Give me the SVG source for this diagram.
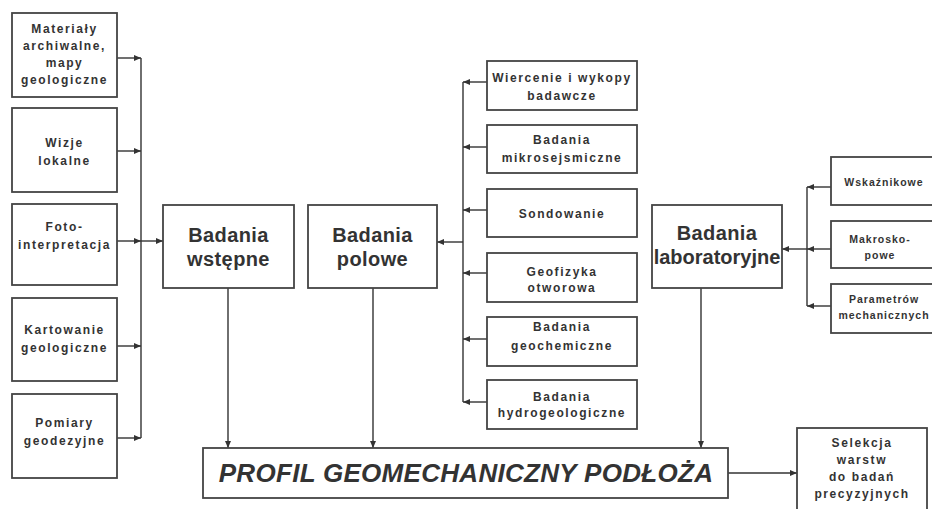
<svg xmlns="http://www.w3.org/2000/svg" width="932" height="509" viewBox="0 0 932 509">
<style>
  .box { fill: #ffffff; stroke: #444; stroke-width: 1.8; }
  .ln { fill: none; stroke: #333; stroke-width: 1.4; }
  text { font-family: "Liberation Sans", Arial, sans-serif; font-weight: bold; fill: #333; text-anchor: middle; }
  .s { font-size: 12px; letter-spacing: 1.6px; }
  .r { font-size: 10.5px; letter-spacing: 1px; }
  .b { font-size: 20px; letter-spacing: 0.4px; }
  .p { font-size: 26px; font-style: italic; letter-spacing: 0.3px; }
</style>
<defs>
  <marker id="arr" markerUnits="userSpaceOnUse" markerWidth="8" markerHeight="6" refX="7" refY="3" orient="auto">
    <path d="M0,0 L7,3 L0,6 Z" fill="#333"/>
  </marker>
</defs>
<rect width="932" height="509" fill="#ffffff"/>

<g id="connectors">
  <!-- left bus -->
  <path class="ln" d="M141,58 V438"/>
  <path class="ln" d="M117,58 H141" marker-end="url(#arr)"/>
  <path class="ln" d="M117,151 H141" marker-end="url(#arr)"/>
  <path class="ln" d="M117,241 H141" marker-end="url(#arr)"/>
  <path class="ln" d="M117,346 H141" marker-end="url(#arr)"/>
  <path class="ln" d="M117,438 H141" marker-end="url(#arr)"/>
  <path class="ln" d="M141,241 H163" marker-end="url(#arr)"/>
  <!-- field bus -->
  <path class="ln" d="M463,82 V402"/>
  <path class="ln" d="M487,82 H463" marker-end="url(#arr)"/>
  <path class="ln" d="M487,147 H463" marker-end="url(#arr)"/>
  <path class="ln" d="M487,210 H463" marker-end="url(#arr)"/>
  <path class="ln" d="M487,273 H463" marker-end="url(#arr)"/>
  <path class="ln" d="M487,339 H463" marker-end="url(#arr)"/>
  <path class="ln" d="M487,402 H463" marker-end="url(#arr)"/>
  <path class="ln" d="M463,242 H437" marker-end="url(#arr)"/>
  <!-- lab bus -->
  <path class="ln" d="M807,187 V306"/>
  <path class="ln" d="M831,187 H807" marker-end="url(#arr)"/>
  <path class="ln" d="M831,249 H807" marker-end="url(#arr)"/>
  <path class="ln" d="M831,306 H807" marker-end="url(#arr)"/>
  <path class="ln" d="M807,249 H782" marker-end="url(#arr)"/>
  <!-- down to profile -->
  <path class="ln" d="M228,288 V448" marker-end="url(#arr)"/>
  <path class="ln" d="M373,288 V448" marker-end="url(#arr)"/>
  <path class="ln" d="M701,288 V448" marker-end="url(#arr)"/>
  <path class="ln" d="M728,473 H797" marker-end="url(#arr)"/>
</g>

<g id="materialy">
  <rect class="box" x="12" y="13" width="105" height="84"/>
  <text class="s" x="64.5" y="33">Materiały</text>
  <text class="s" x="64.5" y="50">archiwalne,</text>
  <text class="s" x="64.5" y="67">mapy</text>
  <text class="s" x="64.5" y="84">geologiczne</text>
</g>
<g id="wizje">
  <rect class="box" x="12" y="108" width="105" height="84"/>
  <text class="s" x="64.5" y="147">Wizje</text>
  <text class="s" x="64.5" y="165">lokalne</text>
</g>
<g id="foto">
  <rect class="box" x="12" y="204" width="105" height="81"/>
  <text class="s" x="64.5" y="231">Foto-</text>
  <text class="s" x="64.5" y="249">interpretacja</text>
</g>
<g id="kartowanie">
  <rect class="box" x="12" y="298" width="105" height="83"/>
  <text class="s" x="64.5" y="334">Kartowanie</text>
  <text class="s" x="64.5" y="352">geologiczne</text>
</g>
<g id="pomiary">
  <rect class="box" x="12" y="394" width="105" height="84"/>
  <text class="s" x="64.5" y="427">Pomiary</text>
  <text class="s" x="64.5" y="445">geodezyjne</text>
</g>

<g id="wstepne">
  <rect class="box" x="163" y="205" width="131" height="83"/>
  <text class="b" x="228.5" y="242">Badania</text>
  <text class="b" x="228.5" y="266">wstępne</text>
</g>
<g id="polowe">
  <rect class="box" x="308" y="205" width="129" height="83"/>
  <text class="b" x="372.5" y="242">Badania</text>
  <text class="b" x="372.5" y="266">polowe</text>
</g>
<g id="laboratoryjne">
  <rect class="box" x="652" y="205" width="130" height="83"/>
  <text class="b" x="717" y="240">Badania</text>
  <text class="b" x="717" y="264" style="letter-spacing:0">laboratoryjne</text>
</g>

<g id="wiercenie">
  <rect class="box" x="487" y="61" width="150" height="49"/>
  <text class="s" x="562" y="82">Wiercenie i wykopy</text>
  <text class="s" x="562" y="100">badawcze</text>
</g>
<g id="mikrosejsmiczne">
  <rect class="box" x="487" y="125" width="150" height="48"/>
  <text class="s" x="562" y="144">Badania</text>
  <text class="s" x="562" y="162">mikrosejsmiczne</text>
</g>
<g id="sondowanie">
  <rect class="box" x="487" y="189" width="150" height="48"/>
  <text class="s" x="562" y="218">Sondowanie</text>
</g>
<g id="geofizyka">
  <rect class="box" x="487" y="253" width="150" height="49"/>
  <text class="s" x="562" y="276">Geofizyka</text>
  <text class="s" x="562" y="292">otworowa</text>
</g>
<g id="geochemiczne">
  <rect class="box" x="487" y="317" width="150" height="49"/>
  <text class="s" x="562" y="331">Badania</text>
  <text class="s" x="562" y="350">geochemiczne</text>
</g>
<g id="hydrogeologiczne">
  <rect class="box" x="487" y="380" width="150" height="49"/>
  <text class="s" x="562" y="401">Badania</text>
  <text class="s" x="562" y="417">hydrogeologiczne</text>
</g>

<g id="wskaznikowe">
  <rect class="box" x="831" y="157" width="112" height="48"/>
  <text class="r" x="884" y="186">Wskaźnikowe</text>
</g>
<g id="makroskopowe">
  <rect class="box" x="831" y="221" width="112" height="47"/>
  <text class="r" x="880" y="243">Makrosko-</text>
  <text class="r" x="880" y="259">powe</text>
</g>
<g id="parametrow">
  <rect class="box" x="831" y="284" width="112" height="49"/>
  <text class="r" x="884" y="303">Parametrów</text>
  <text class="r" x="884" y="319">mechanicznych</text>
</g>

<g id="profil">
  <rect class="box" x="203" y="448" width="525" height="50"/>
  <text class="p" x="466" y="482">PROFIL GEOMECHANICZNY PODŁOŻA</text>
</g>
<g id="selekcja">
  <rect class="box" x="797" y="428" width="130" height="90"/>
  <text class="s" x="862" y="447">Selekcja</text>
  <text class="s" x="862" y="464">warstw</text>
  <text class="s" x="862" y="481">do badań</text>
  <text class="s" x="862" y="498">precyzyjnych</text>
</g>
</svg>
